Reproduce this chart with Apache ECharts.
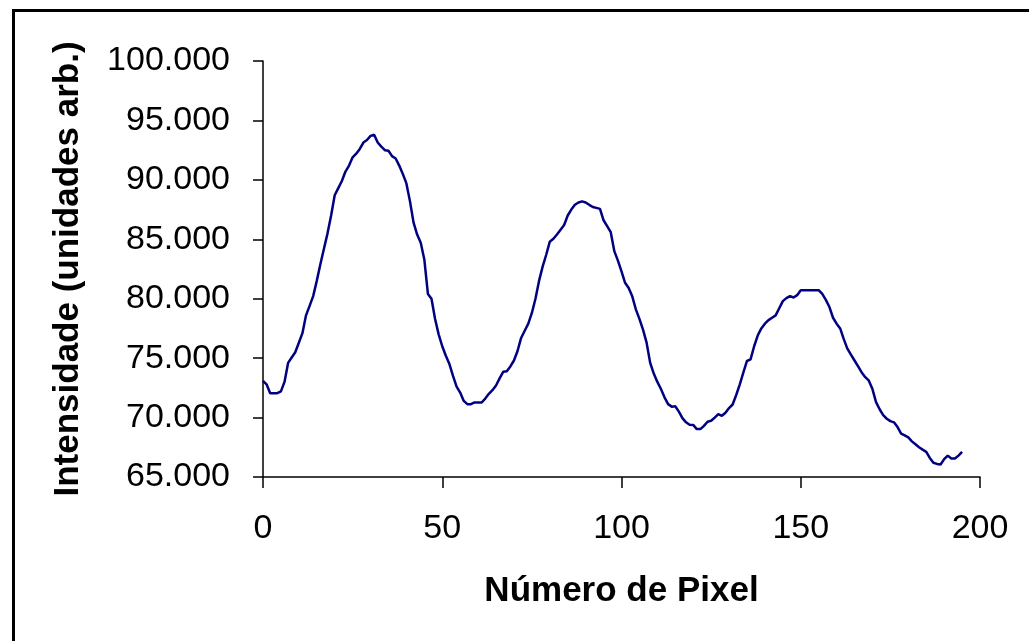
<!DOCTYPE html>
<html>
<head>
<meta charset="utf-8">
<script src="https://cdn.jsdelivr.net/npm/echarts@6/dist/echarts.min.js"></script>
<style>
html,body{margin:0;padding:0;background:#fff;}
#c{width:1029px;height:641px;}
</style>
</head>
<body>
<div id="c"></div>
<script>
// Intensity per pixel number (0..195)
const intensity = [
73080,72800,72050,72050,72050,72200,73000,74600,75050,75500,
76300,77100,78600,79400,80220,81500,82900,84200,85500,87000,
88700,89300,89900,90700,91200,91900,92200,92600,93140,93350,
93700,93790,93140,92800,92500,92450,92000,91800,91200,90500,
89700,88190,86400,85400,84700,83300,80400,80000,78300,77000,
76000,75200,74500,73500,72600,72100,71400,71130,71130,71270,
71270,71270,71600,72000,72300,72700,73300,73850,73900,74300,
74800,75600,76700,77300,77900,78800,80000,81500,82700,83700,
84800,85050,85400,85800,86200,87000,87500,87900,88100,88190,
88100,87900,87720,87640,87560,86600,86100,85600,84000,83200,
82300,81340,80900,80200,79100,78300,77400,76300,74600,73700,
73000,72400,71700,71130,70920,70950,70500,69950,69600,69390,
69380,69030,69030,69300,69650,69730,70000,70290,70150,70400,
70800,71100,71900,72800,73800,74760,74900,76000,76900,77500,
77900,78200,78400,78600,79200,79800,80050,80220,80100,80300,
80720,80720,80720,80720,80720,80720,80400,79900,79300,78400,
77900,77500,76600,75800,75300,74800,74300,73800,73400,73100,
72400,71300,70700,70200,69900,69700,69600,69200,68650,68500,
68330,68000,67750,67500,67300,67120,66600,66200,66100,66050,
66500,66800,66550,66550,66800,67120
];
const xTicks = [0, 50, 100, 150, 200];
const yTicks = [65000, 70000, 75000, 80000, 85000, 90000, 95000, 100000];
const xTitle = 'Número de Pixel';
const yTitle = 'Intensidade (unidades arb.)';

const points = intensity.map((v, i) => [i, v]);
const font = '"Liberation Sans", Arial, sans-serif';
const chart = echarts.init(document.getElementById('c'), null, {renderer: 'canvas'});
chart.setOption({
  animation: false,
  backgroundColor: '#ffffff',
  grid: {left: 263, right: 49, top: 61, bottom: 164, containLabel: false},
  xAxis: {
    type: 'value',
    min: xTicks[0], max: xTicks[xTicks.length - 1], interval: 50,
    name: xTitle, nameLocation: 'middle', nameGap: 97,
    nameTextStyle: {fontFamily: font, fontSize: 35, fontWeight: 'bold', color: '#000'},
    axisLine: {show: true, onZero: false, lineStyle: {color: '#000', width: 1.5}},
    axisTick: {show: true, inside: false, length: 11, lineStyle: {color: '#000', width: 1.5}},
    axisLabel: {fontFamily: font, fontSize: 34, color: '#000', margin: 35},
    splitLine: {show: false}
  },
  yAxis: {
    type: 'value',
    min: yTicks[0], max: yTicks[yTicks.length - 1], interval: 5000,
    name: yTitle, nameLocation: 'middle', nameGap: 177, nameRotate: 90,
    nameTextStyle: {fontFamily: font, fontSize: 35, fontWeight: 'bold', color: '#000'},
    axisLine: {show: true, onZero: false, lineStyle: {color: '#000', width: 1.5}},
    axisTick: {show: true, inside: false, length: 10, lineStyle: {color: '#000', width: 1.5}},
    axisLabel: {fontFamily: font, fontSize: 34, color: '#000', margin: 33,
      formatter: v => (v / 1000).toFixed(3)},
    splitLine: {show: false}
  },
  graphic: [{
    type: 'rect', left: 11, top: 8, silent: true,
    shape: {width: 1100, height: 1000},
    style: {fill: 'none', stroke: '#000', lineWidth: 3}
  }],
  series: [{
    type: 'line', data: points, showSymbol: false, smooth: false,
    lineStyle: {color: '#000080', width: 2.5}
  }]
});
</script>
</body>
</html>
